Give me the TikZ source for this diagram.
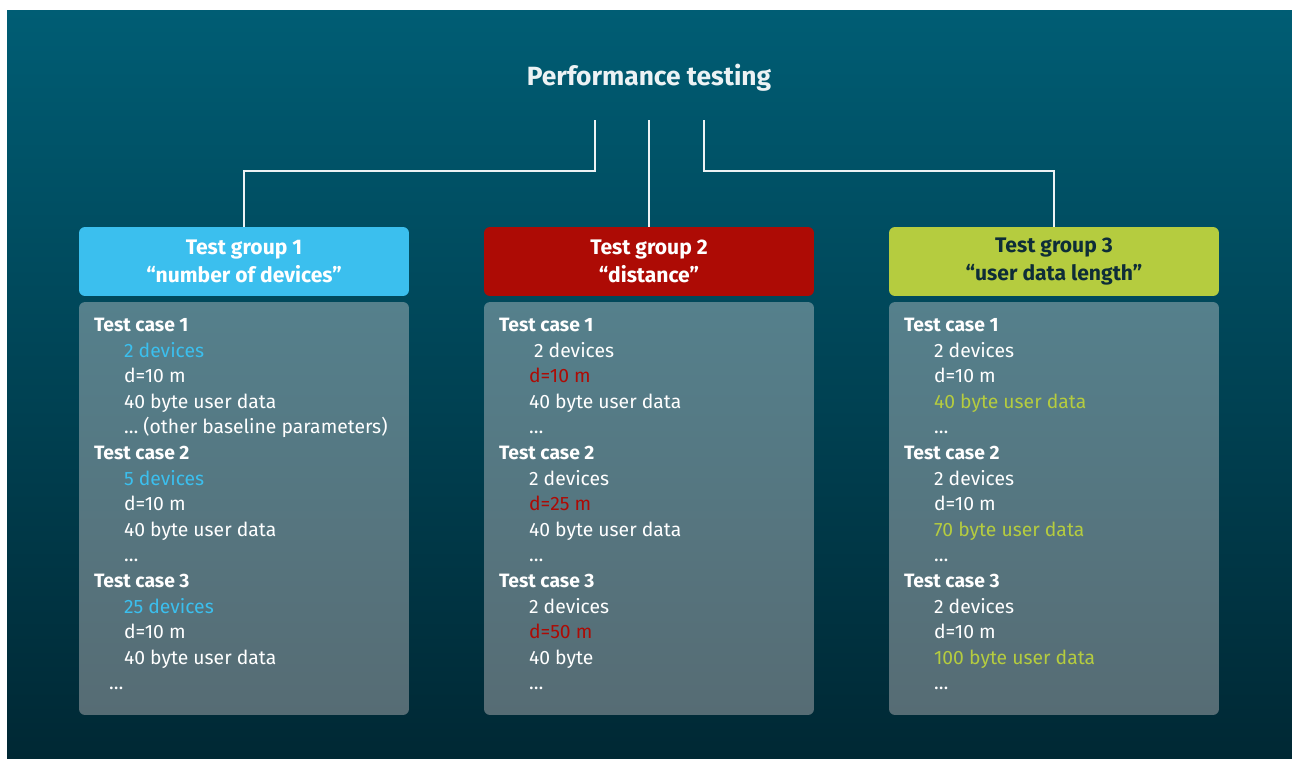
\documentclass[tikz,border=0pt]{standalone}
\usepackage{fontspec}
\setmainfont{Fira Sans}
\usetikzlibrary{positioning}

\definecolor{bgtop}{RGB}{0,93,116}
\definecolor{bgbot}{RGB}{0,40,52}
\definecolor{boxtop}{RGB}{85,128,140}
\definecolor{boxbot}{RGB}{86,108,116}
\definecolor{grpblue}{RGB}{59,191,238}
\definecolor{grpred}{RGB}{173,11,5}
\definecolor{grpgreen}{RGB}{181,204,63}
\definecolor{darktext}{RGB}{14,45,56}
\definecolor{linkcol}{RGB}{236,242,244}

\newcommand{\ind}{\hspace*{0.6cm}}

\begin{document}
\begin{tikzpicture}[x=0.02cm, y=-0.02cm,
    header/.style={rounded corners=3.4pt, minimum width=6.6cm, minimum height=1.38cm,
      align=center, text=white, font=\fontsize{12}{16}\selectfont\bfseries},
    casebox/.style={rounded corners=3.4pt, minimum width=6.6cm, minimum height=8.26cm,
      top color=boxtop, bottom color=boxbot},
    cases/.style={anchor=north west, inner sep=0pt, align=left, text=white,
      font=\fontsize{11}{14.57}\selectfont},
    link/.style={draw=linkcol, line width=1.1pt}]

  \useasboundingbox[fill=white] (0,0) rectangle (1292,758);
  \shade[top color=bgtop, bottom color=bgbot] (7,10) rectangle (1292,758);

%% Title
  \node[text=linkcol, font=\fontsize{15}{18}\selectfont\bfseries] (title) at (649,78) {Performance testing};
  \coordinate (s1) at (595,120);
  \coordinate (s2) at (649,120);
  \coordinate (s3) at (704,120);

%% Groups
  \node[header, fill=grpblue] (g1) at (244,261.5) {Test group 1\\“number of devices”};
  \node[header, fill=grpred] (g2) at (649,261.5) {Test group 2\\“distance”};
  \node[header, fill=grpgreen, text=darktext] (g3) at (1054,261.5) {Test group 3\\“user data length”};

%% Links
  \draw[link] (s1) -- ++(0,51) -| (g1.north);
  \draw[link] (s2) -- (g2.north);
  \draw[link] (s3) -- ++(0,51) -| (g3.north);

%% Test cases
  \node[casebox] (b1) at (244,508.5) {};
  \node[casebox] (b2) at (649,508.5) {};
  \node[casebox] (b3) at (1054,508.5) {};

  \node[cases] (c1) at ([shift={(15,16)}]b1.north west) {%
    \textbf{Test case 1}\\
    \ind\textcolor{grpblue}{2 devices}\\
    \ind d=10 m\\
    \ind 40 byte user data\\
    \ind … (other baseline parameters)\\
    \textbf{Test case 2}\\
    \ind\textcolor{grpblue}{5 devices}\\
    \ind d=10 m\\
    \ind 40 byte user data\\
    \ind …\\
    \textbf{Test case 3}\\
    \ind\textcolor{grpblue}{25 devices}\\
    \ind d=10 m\\
    \ind 40 byte user data\\
    \hspace*{0.3cm}…};

  \node[cases] (c2) at ([shift={(15,16)}]b2.north west) {%
    \textbf{Test case 1}\\
    \hspace*{0.7cm}2 devices\\
    \ind\textcolor{grpred}{d=10 m}\\
    \ind 40 byte user data\\
    \ind …\\
    \textbf{Test case 2}\\
    \ind 2 devices\\
    \ind\textcolor{grpred}{d=25 m}\\
    \ind 40 byte user data\\
    \ind …\\
    \textbf{Test case 3}\\
    \ind 2 devices\\
    \ind\textcolor{grpred}{d=50 m}\\
    \ind 40 byte\\
    \ind …};

  \node[cases] (c3) at ([shift={(15,16)}]b3.north west) {%
    \textbf{Test case 1}\\
    \ind 2 devices\\
    \ind d=10 m\\
    \ind\textcolor{grpgreen}{40 byte user data}\\
    \ind …\\
    \textbf{Test case 2}\\
    \ind 2 devices\\
    \ind d=10 m\\
    \ind\textcolor{grpgreen}{70 byte user data}\\
    \ind …\\
    \textbf{Test case 3}\\
    \ind 2 devices\\
    \ind d=10 m\\
    \ind\textcolor{grpgreen}{100 byte user data}\\
    \ind …};

\end{tikzpicture}
\end{document}
